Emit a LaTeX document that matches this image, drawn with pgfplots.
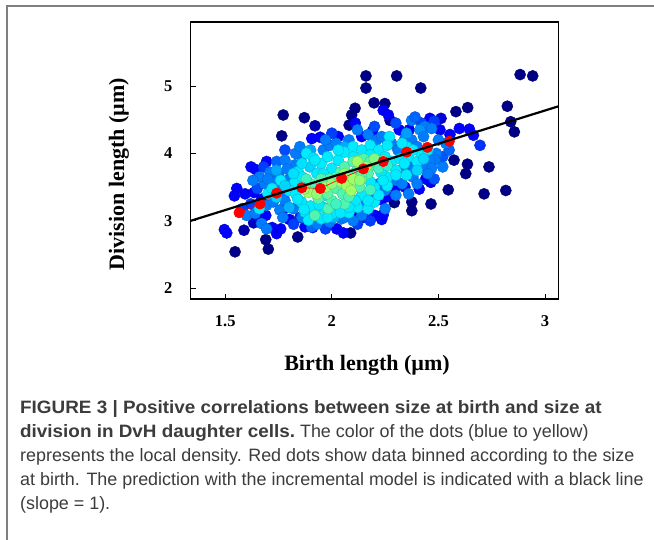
\documentclass[border=0pt]{standalone}
\usepackage{fontspec}
\setmainfont{Liberation Serif}
\newfontfamily\capfont{Liberation Sans}
\usepackage{pgfplots}
\usepackage{pgfplotstable}
\pgfplotsset{compat=1.18}
\definecolor{capgray}{HTML}{3C3C3C}
\definecolor{framegray}{HTML}{7F7F7F}

\pgfplotstableread{
x y c
1.546 2.54 0
1.702 2.58 0
1.690 2.72 0
1.588 2.86 0.3
1.840 2.76 0
2.088 2.82 0
1.772 4.57 0
1.765 4.26 0
1.871 4.53 0
2.109 4.67 0
2.093 4.57 0
2.081 4.42 0
2.160 5.15 0
2.160 4.97 0
2.304 5.15 0
2.198 4.75 0
2.249 4.74 0
2.273 4.49 0
2.417 4.97 0
2.883 5.17 0
2.942 5.15 0
2.582 4.62 0
2.637 4.68 0
2.823 4.70 0
2.839 4.47 0
2.856 4.32 0
2.573 3.90 0
2.636 3.84 0
2.628 3.70 0
2.737 3.80 0
2.546 3.46 0
2.714 3.40 0
2.816 3.45 0
2.465 3.25 0
2.375 3.28 0
2.375 3.15 0
2.293 3.27 0
1.921 4.41 0.3
1.633 2.97 0.5
2.464 3.57 0.8
1.496 2.87 1
1.507 2.82 1
1.554 3.48 1
1.543 3.37 1
1.593 3.40 1
1.635 3.42 1
1.621 3.80 1
1.644 3.76 1
1.741 2.81 1
1.760 2.88 1
1.720 2.90 1
1.801 3.02 1
1.772 3.17 1
1.874 2.91 1
1.910 2.90 1
2.023 2.88 1
2.054 2.82 1
1.906 4.22 1
1.945 4.24 1
2.234 3.02 1
2.202 3.08 1
2.241 3.09 1
2.234 3.31 1
2.296 3.49 1
2.343 3.50 1
2.241 4.64 1
2.265 4.57 1
2.316 4.35 1
2.363 4.35 1
2.460 4.52 1
2.512 4.52 0.7
2.507 4.35 1
2.554 4.28 1
2.598 4.37 1
2.645 4.36 1
2.664 4.27 1
2.695 4.12 1.4
1.694 3.88 1
1.660 3.02 1
1.690 3.08 1
1.670 3.32 1
2.120 3.10 1
2.110 4.45 1
2.030 4.25 1
2.140 4.25 1
2.190 4.33 1
2.260 3.36 1
2.410 3.47 1
2.440 3.62 1
1.960 2.97 1.2
1.850 3.05 1.3
2.150 3.05 1.2
1.620 3.25 1.5
1.580 3.18 1.5
1.650 3.48 1.6
1.680 3.80 1.5
1.820 2.95 1.5
1.970 2.88 1.5
2.120 2.95 1.5
2.180 3.00 1.5
2.420 4.45 1.6
2.300 4.45 1.6
2.200 4.40 1.6
2.000 4.30 1.5
1.780 4.05 1.6
2.480 4.48 1.5
2.520 3.95 1.7
2.480 3.62 1.7
2.550 4.05 1.8
1.600 3.08 2
1.640 3.11 2
1.670 2.96 2
1.694 2.88 2
1.694 3.23 2
1.725 3.28 2
1.756 3.16 2
1.710 3.72 2
1.750 3.68 2
1.686 3.55 2
1.733 3.57 2
1.741 3.88 1.8
1.780 3.90 2
1.827 3.83 2
1.858 3.95 2
1.905 2.91 1.8
1.990 2.98 2
2.045 3.03 2
2.140 3.08 2
1.780 3.30 2
1.760 3.44 2
1.800 3.62 2
1.790 3.77 2
1.960 4.05 2
1.990 4.12 2
2.020 4.15 2
2.080 4.20 2
2.120 4.35 2
2.170 4.28 2
2.210 4.20 2
2.257 4.20 2
2.234 4.25 2
2.280 4.15 2
2.343 4.22 2
2.374 4.20 2
2.374 4.49 2
2.390 4.54 1.8
2.437 4.40 2
2.468 4.37 2
2.413 4.35 2.2
2.535 4.15 2
2.490 4.00 2
2.484 3.90 2
2.460 3.90 2
2.437 3.80 2
2.468 3.78 2
2.450 3.70 2
2.382 3.80 2
2.335 3.78 2
2.300 3.60 2
2.330 3.55 2
2.380 3.65 2
2.220 3.55 2
2.250 3.45 2
2.200 3.40 2
2.160 3.25 2
2.060 3.05 2
2.100 3.00 2
1.930 2.95 2
1.860 3.05 2
1.820 3.18 2
1.660 3.65 2
1.630 3.60 2
1.830 4.00 2
2.310 4.05 2
2.400 4.10 2
2.430 4.25 2
2.500 4.20 2
1.700 3.62 2
1.770 3.05 2
2.250 3.18 2
2.300 3.38 2
2.360 3.40 2
2.400 3.55 2
2.520 3.80 2
1.850 4.10 2
1.970 4.20 2
2.350 4.30 2.3
2.060 4.10 2.4
1.900 4.05 2.4
1.740 3.75 2.4
1.800 3.20 2.5
2.010 3.05 2.5
1.660 3.18 3
1.827 3.58 3
1.842 3.73 3
1.881 4.00 3
1.913 3.93 3
1.897 3.80 2.8
1.858 3.28 3
1.874 3.13 3
1.890 3.01 3
1.950 3.03 3
2.030 3.18 3
2.077 3.28 3
2.140 3.38 3
2.170 3.18 3
2.200 3.28 3
1.800 3.45 3
1.830 3.40 3
1.860 3.65 3
1.930 3.70 3
1.950 3.85 3
1.980 3.95 3
2.000 3.78 3
2.030 3.90 3
2.060 4.02 3
2.100 4.10 3
2.140 4.05 3
2.180 4.12 3
2.220 4.05 3
2.250 3.95 3
2.280 3.88 3
2.320 3.92 3
2.360 3.95 3
2.400 3.88 3
2.420 4.00 3
2.450 4.05 3
2.350 4.10 3
2.270 4.25 3
2.300 3.75 3
2.260 3.65 3
2.230 3.72 3
2.200 3.50 3
2.180 3.58 3
1.960 3.20 3
2.000 3.10 3
1.920 3.12 3
1.900 3.22 3
1.970 3.38 3
2.120 3.20 3
2.080 3.12 3
1.700 3.40 3
1.720 3.48 3
1.760 3.60 3
1.740 3.35 2.8
1.780 3.52 2.8
1.820 3.70 2.9
1.860 3.85 2.9
1.920 3.90 3
1.960 3.70 3
2.030 4.05 3
2.100 3.95 3
2.180 3.98 3
2.260 4.12 3
2.330 4.15 3
2.380 4.05 3
2.430 3.92 2.8
2.340 3.85 3
2.300 3.68 3
2.260 3.52 3
2.220 3.38 3
2.170 3.30 3
2.110 3.30 3
2.040 3.12 3
1.940 3.24 3
1.840 3.32 3
1.870 3.17 3
1.980 3.05 3
2.080 3.20 3
2.240 3.60 3
2.350 3.68 3
2.400 3.75 2.8
1.920 3.08 3.5
1.983 3.18 3.5
1.936 3.33 3.5
1.960 3.55 3.5
1.990 3.62 3.5
2.020 3.48 3.5
2.050 3.40 3.5
2.080 3.58 3.5
2.100 3.70 3.5
2.120 3.82 3.5
2.150 3.92 3.5
2.170 3.70 3.5
2.200 3.82 3.5
2.130 3.50 3.5
2.040 3.72 3.5
1.950 3.45 3.5
1.900 3.55 3.5
2.060 3.25 3.5
2.140 3.62 3.5
2.240 3.90 3.5
2.000 3.30 3.5
1.880 3.62 3.4
1.920 3.48 3.5
1.980 3.40 3.6
2.020 3.62 3.6
2.060 3.80 3.5
2.100 3.88 3.5
2.180 3.88 3.5
2.220 3.78 3.4
2.140 3.72 3.6
2.080 3.36 3.5
2.020 3.25 3.4
1.950 3.62 3.5
1.860 3.50 3.4
2.180 3.46 3.4
2.260 3.82 3.3
1.890 3.42 4
2.040 3.58 4
2.070 3.52 4
2.100 3.62 4
2.120 3.88 4
2.160 3.80 4
2.050 3.65 4
2.090 3.45 4
1.970 3.50 4
1.930 3.40 3.9
2.000 3.55 3.9
2.130 3.60 3.9
2.200 3.92 3.8
2.060 3.70 3.9
1.870 3.47 3.9
}\cloud

\pgfplotstableread{
x y
1.565 3.12
1.663 3.25
1.741 3.41
1.859 3.49
1.946 3.48
2.046 3.63
2.148 3.77
2.241 3.88
2.351 4.02
2.448 4.09
2.551 4.18
}\binned

\begin{document}
\begin{tikzpicture}[x=1pt,y=1pt]
\path[use as bounding box, fill=white] (0,0) rectangle (654,540);
\draw[framegray, line width=1.6pt] (7,0) -- (7,534) -- (654,534);
\begin{axis}[
  at={(190.7pt,241pt)}, anchor=south west,
  scale only axis, width=368pt, height=277pt,
  xmin=1.338, xmax=3.064, ymin=1.84, ymax=5.95,
  clip mode=individual,
  xtick={1.5,2,2.5,3}, ytick={2,3,4,5},
  xticklabels={1.5,2,2.5,3}, yticklabels={2,3,4,5},
  tick pos=left, tick align=inside,
  major tick length=5pt,
  axis line style={line width=1.3pt},
  tick style={line width=0.9pt, black},
  ticklabel style={font=\bfseries\fontsize{16.5}{16.5}\selectfont},
  xticklabel style={anchor=center, yshift=-22pt},
  yticklabel style={anchor=center, xshift=-22.5pt},
  colormap={dens}{rgb255=(0,0,135) rgb255=(0,0,255) rgb255=(0,125,255) rgb255=(0,235,255) rgb255=(160,255,100)},
  point meta min=0, point meta max=4,
]
\addplot[scatter, only marks, mark=*, mark size=5.6pt, point meta=explicit]
  table[x=x, y=y, meta=c] {\cloud};
\addplot[red, line width=0.6pt, mark=*, mark size=5.2pt, mark options={fill=red, draw=red}]
  table[x=x, y=y] {\binned};
\addplot[black, line width=2.2pt] coordinates {(1.338,3.00) (3.064,4.70)};
\end{axis}
\node[rotate=90, font=\bfseries\fontsize{22}{22}\selectfont] at (119,366) {Division length (µm)};
\node[font=\bfseries\fontsize{22}{22}\selectfont] at (367,175) {Birth length (µm)};
\begin{scope}[every node/.style={anchor=base west, inner sep=0pt, text=capgray, font=\capfont\fontsize{17.9}{17.9}\selectfont}]
\node at (20,126) {\scalebox{1.055}[1]{\textbf{FIGURE 3 | Positive correlations between size at birth and size at}}};
\node at (20,102) {\scalebox{1.055}[1]{\textbf{division in DvH daughter cells.}} The color of the dots (blue to yellow)};
\node at (20,78) {represents the local density. Red dots show data binned according to the size};
\node at (20,54) {at birth. The prediction with the incremental model is indicated with a black line};
\node at (20,30) {(slope = 1).};
\end{scope}
\end{tikzpicture}
\end{document}
